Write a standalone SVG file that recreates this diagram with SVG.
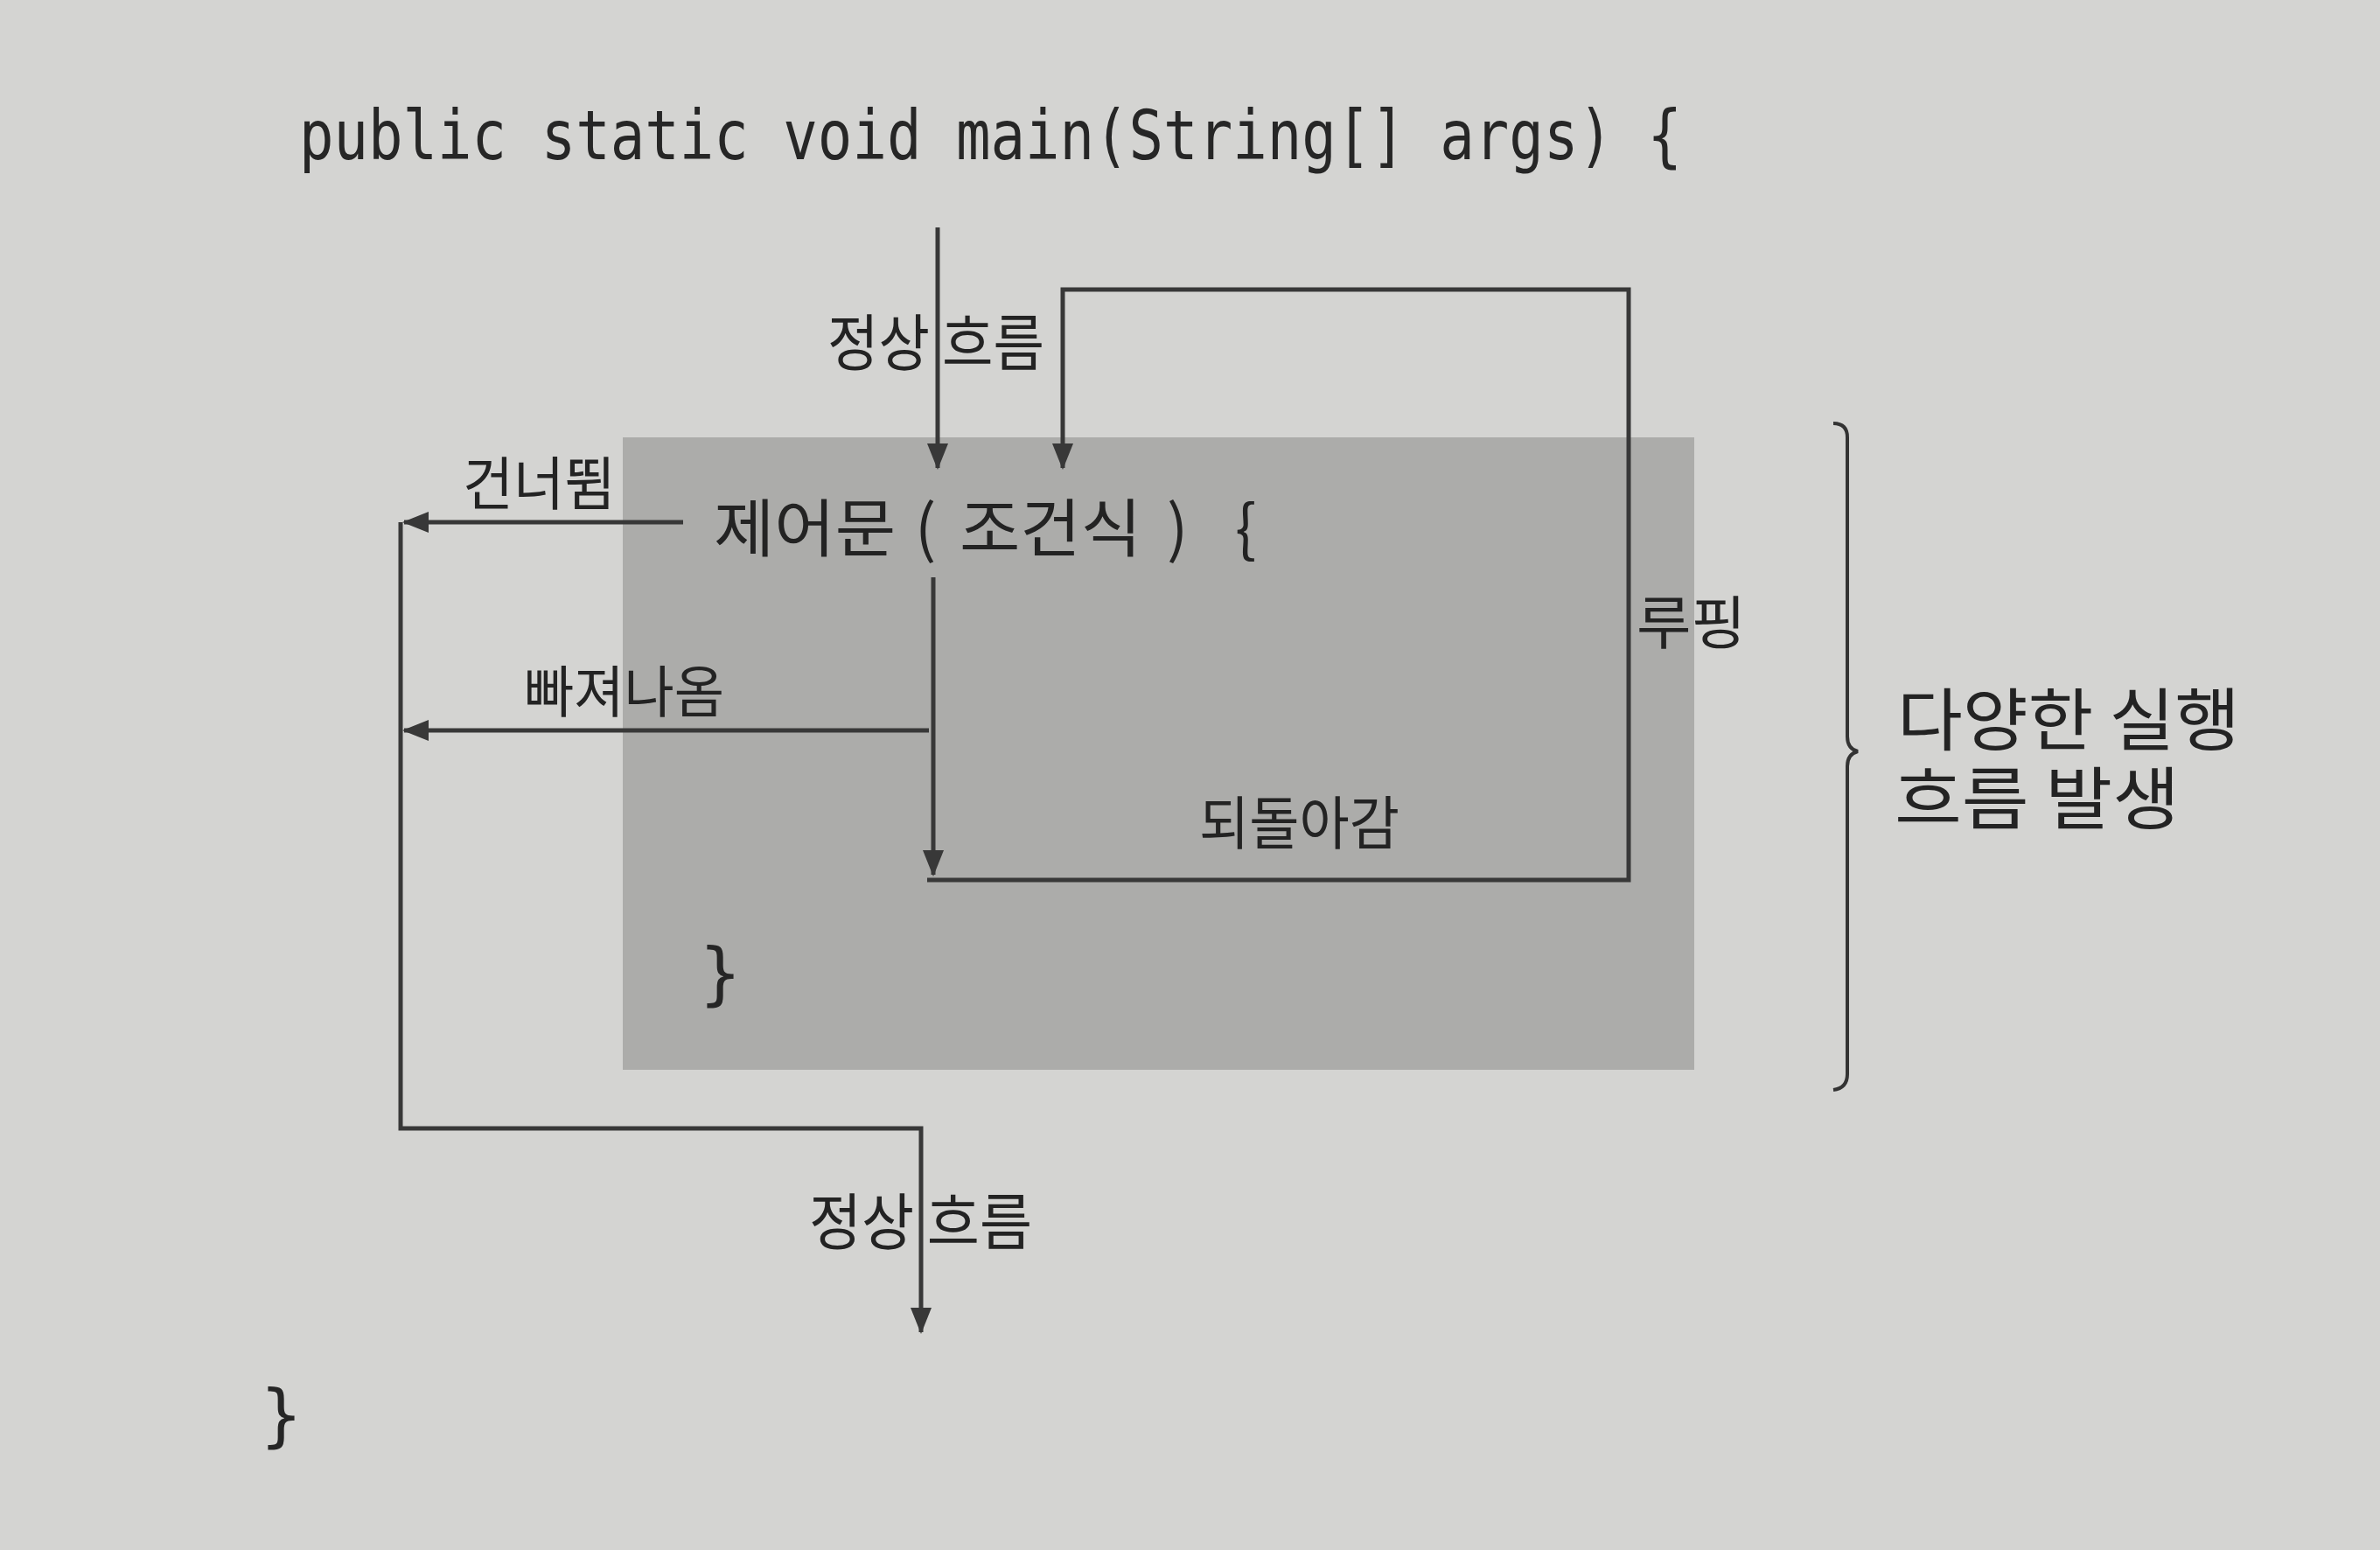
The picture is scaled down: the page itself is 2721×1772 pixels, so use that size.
<svg xmlns="http://www.w3.org/2000/svg" width="2721" height="1772" viewBox="0 0 2721 1772">
<style>
.code{font-family:"DejaVu Sans Mono","Liberation Mono",monospace;fill:#262626;}
.ko{font-family:"Noto Sans CJK KR","Noto Sans",sans-serif;fill:#232323;}
.flow{fill:none;stroke:#383838;stroke-width:5;stroke-linejoin:miter;}
</style>
<defs>
<marker id="arr" markerUnits="userSpaceOnUse" markerWidth="30" markerHeight="24" refX="28" refY="12" orient="auto">
<path d="M0,0 L30,12 L0,24 Z" fill="#383838"/>
</marker>
</defs>
<rect x="0" y="0" width="2721" height="1772" fill="#d4d4d2"/>
<g id="block">
<rect x="712" y="500" width="1225" height="723" fill="#acacaa"/>
</g>
<g id="main-sig">
<text class="code" x="342" y="182" font-size="78" textLength="1581" lengthAdjust="spacingAndGlyphs">public static void main(String[] args) {</text>
</g>
<g id="main-close">
<text class="code" x="298" y="1645" font-size="78">}</text>
</g>
<g id="control">
<text class="ko" y="630" font-size="72"><tspan x="816" textLength="208" lengthAdjust="spacingAndGlyphs">제어문</tspan><tspan x="1046">(</tspan><tspan x="1097" textLength="208" lengthAdjust="spacingAndGlyphs">조건식</tspan><tspan x="1334">)</tspan><tspan x="1412">{</tspan></text>
</g>
<g id="control-close">
<text class="code" x="800" y="1140" font-size="78">}</text>
</g>
<g id="connectors">
<path class="flow" d="M1072,260 V535" marker-end="url(#arr)"/>
<path class="flow" d="M1060,1006 H1862 V331 H1215 V535" marker-end="url(#arr)"/>
<path class="flow" d="M1067,660 V1000" marker-end="url(#arr)"/>
<path class="flow" d="M1062,835 H462" marker-end="url(#arr)"/>
<path class="flow" d="M781,597 H462" marker-end="url(#arr)"/>
<path class="flow" d="M458,597 V1290 H1053 V1523" marker-end="url(#arr)"/>
</g>
<g id="labels">
<text class="ko" x="946" y="418" font-size="70" textLength="248" lengthAdjust="spacingAndGlyphs">정상 흐름</text>
<text class="ko" x="529" y="577" font-size="66" textLength="174" lengthAdjust="spacingAndGlyphs">건너뜀</text>
<text class="ko" x="599" y="814" font-size="64" textLength="229" lengthAdjust="spacingAndGlyphs">빠져나옴</text>
<text class="ko" x="1371" y="965" font-size="66" textLength="229" lengthAdjust="spacingAndGlyphs">되돌아감</text>
<text class="ko" x="1871" y="736" font-size="66" textLength="125" lengthAdjust="spacingAndGlyphs">루핑</text>
<text class="ko" x="925" y="1423" font-size="70" textLength="255" lengthAdjust="spacingAndGlyphs">정상 흐름</text>
</g>
<g id="range">
<path d="M2096,484 Q2112,484 2112,500 V842 Q2112,856 2124,859 Q2112,862 2112,876 V1228 Q2112,1244 2096,1246" fill="none" stroke="#333" stroke-width="4"/>
<text class="ko" font-size="78"><tspan x="2169" y="852" textLength="392" lengthAdjust="spacingAndGlyphs">다양한 실행</tspan><tspan x="2166" y="942" textLength="326" lengthAdjust="spacingAndGlyphs">흐름 발생</tspan></text>
</g>
</svg>
